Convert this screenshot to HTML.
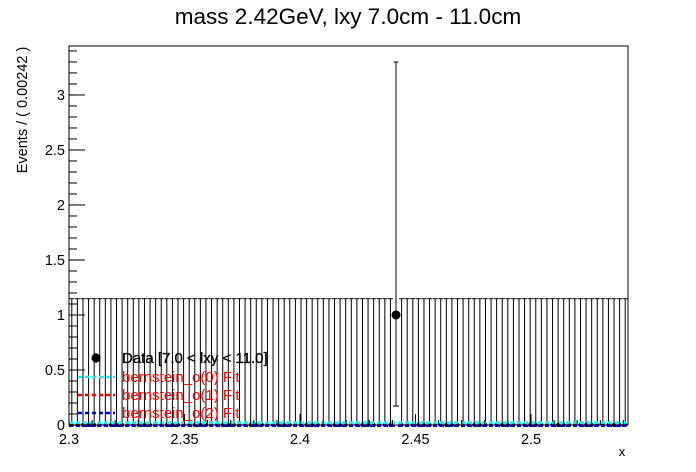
<!DOCTYPE html>
<html><head><meta charset="utf-8"><style>body{margin:0;background:#fff}svg{display:block;font-family:"Liberation Sans",sans-serif}</style></head>
<body>
<svg id="c" width="696" height="472">
<rect width="696" height="472" fill="#fff"/>
<text x="348" y="24" font-size="22.5" text-anchor="middle">mass 2.42GeV, lxy 7.0cm - 11.0cm</text>
<text transform="translate(27,110) rotate(-90)" font-size="14.5" text-anchor="middle">Events / ( 0.00242 )</text>
<text x="622" y="456" font-size="13" text-anchor="middle">x</text>
<g id="plot"></g>
</svg>
<script>
const xMin=2.3, xMax=2.542, yMin=0, yMax=3.445;
const nBins=100;
const filledBins=[58];
const filledCounts=[1];
const errLow=[0.173];
const errHigh=[3.3];
const emptyErrHigh=1.148;
const xTicks=[2.3,2.35,2.4,2.45,2.5];
const xTickLabels=["2.3","2.35","2.4","2.45","2.5"];
const yTicks=[0,0.5,1,1.5,2,2.5,3];
const yTickLabels=["0","0.5","1","1.5","2","2.5","3"];
const fitNames=["bernstein_o(0) Fit","bernstein_o(1) Fit","bernstein_o(2) Fit"];
const fitColors=["#00ffff","#ff0000","#0000cc"];
const fitLevels=[0.012,0.004,0.002];
const L=69,R=628,T=46,B=425;
const sx=v=>L+(v-xMin)/(xMax-xMin)*(R-L);
const sy=v=>B-(v-yMin)/(yMax-yMin)*(B-T);
const g=document.getElementById('plot');const NS='http://www.w3.org/2000/svg';
function mk(t,a,p){const e=document.createElementNS(NS,t);for(const k in a)e.setAttribute(k,a[k]);(p||g).appendChild(e);return e;}
const frame=mk('rect',{x:L,y:T,width:R-L,height:B-T,fill:'none',stroke:'#000','stroke-width':1});


const bw=(xMax-xMin)/nBins;
for(let i=0;i<nBins;i++){
  const cx=sx(xMin+(i+0.5)*bw);
  const k=filledBins.indexOf(i);
  let v=0,lo=0,hi=emptyErrHigh;
  if(k>=0){v=filledCounts[k];lo=errLow[k];hi=errHigh[k];}
  const gr=mk('g',{});
  
  
  mk('line',{x1:cx,x2:cx,y1:sy(lo),y2:sy(hi),stroke:'#000','stroke-width':1},gr);
  mk('line',{x1:cx-2.5,x2:cx+2.5,y1:sy(hi),y2:sy(hi),stroke:'#000','stroke-width':1},gr);
  if(k>=0){mk('line',{x1:cx-3,x2:cx+3,y1:sy(lo),y2:sy(lo),stroke:'#000'},gr);mk('circle',{cx:cx,cy:sy(v),r:4.5,fill:'#000'},gr);}
  else mk('circle',{cx:cx,cy:sy(v),r:2,fill:'#000'},gr);
}
fitLevels.forEach((lv,i)=>{const l=mk('line',{x1:L,x2:R,y1:sy(lv)+ (i==0?-1:1),y2:sy(lv)+(i==0?-1:1),stroke:fitColors[i],'stroke-width':2.5,'stroke-dasharray':'4,3'});

});
xTicks.forEach((t,i)=>{const x=sx(t);mk('line',{x1:x,x2:x,y1:B,y2:B-11,stroke:'#000'});
const tx=mk('text',{x:x,y:B+19,'font-size':14.5,'text-anchor':'middle'});tx.textContent=xTickLabels[i];

});
for(let v=xMin;v<=xMax+1e-9;v+=0.01){const x=sx(v);mk('line',{x1:x,x2:x,y1:B,y2:B-5,stroke:'#000'});}
yTicks.forEach((t,i)=>{const y=sy(t);mk('line',{x1:L,x2:L+16,y1:y,y2:y,stroke:'#000'});
const tx=mk('text',{x:L-4,y:y+5,'font-size':14.5,'text-anchor':'end'});tx.textContent=yTickLabels[i];

});
for(let v=0;v<=yMax;v+=0.1){const y=sy(v);mk('line',{x1:L,x2:L+8,y1:y,y2:y,stroke:'#000'});}
const lg=mk('g',{});


mk('circle',{cx:96,cy:358,r:4.5,fill:'#000'},lg);mk('line',{x1:96,x2:96,y1:353,y2:363,stroke:'#000'},lg);
let t=mk('text',{x:122,y:363,'font-size':15,'stroke':'#000','stroke-width':0.3},lg);t.textContent='Data [7.0 < lxy < 11.0]';
fitNames.forEach((n,i)=>{const y=377+i*18;mk('line',{x1:78,x2:115,y1:y,y2:y,stroke:fitColors[i],'stroke-width':2.5,'stroke-dasharray':'4,3'},lg);
const tt=mk('text',{x:122,y:y+5,'font-size':15,fill:'#ff0000'},lg);tt.textContent=n;});
</script>
</body></html>
